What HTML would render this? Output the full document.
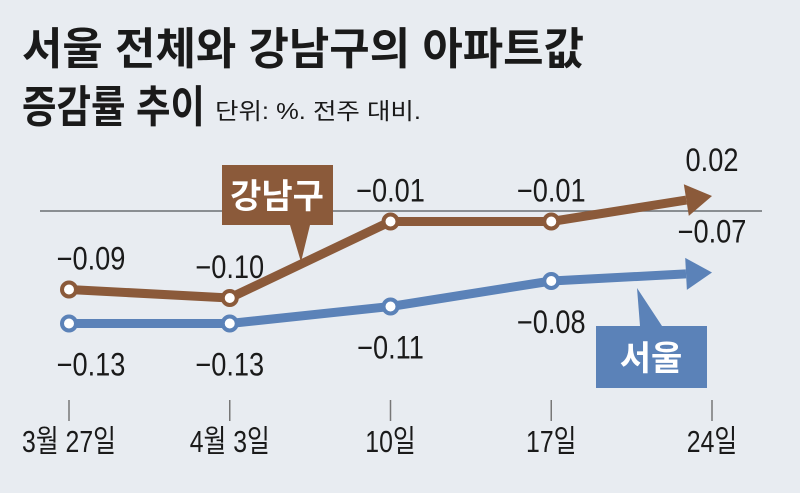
<!DOCTYPE html>
<html><head><meta charset="utf-8">
<style>
html,body{margin:0;padding:0;background:#e8ecf1;}
svg{display:block;}
text{font-family:"Liberation Sans","Noto Sans CJK KR",sans-serif;}
</style></head>
<body>
<svg id="chart" width="800" height="493" viewBox="0 0 800 493">
<rect x="0" y="0" width="800" height="493" fill="#e8ecf1"/>
<text x="22" y="64" font-size="44" font-weight="bold" fill="#1a1a1a" textLength="562" lengthAdjust="spacingAndGlyphs">서울 전체와 강남구의 아파트값</text>
<text x="22" y="122" font-size="44" font-weight="bold" fill="#1a1a1a" textLength="183" lengthAdjust="spacingAndGlyphs">증감률 추이</text>
<text x="215" y="119" font-size="23" fill="#1a1a1a" textLength="206" lengthAdjust="spacingAndGlyphs">단위: %. 전주 대비.</text>
<line x1="40" y1="211" x2="762" y2="211" stroke="#6b6e73" stroke-width="1.5"/>
<g id="marks"></g>
</svg>
<script>
const categories = ["3월 27일","4월 3일","10일","17일","24일"];
const gangnam = [-0.09,-0.10,-0.01,-0.01,0.02];
const seoul = [-0.13,-0.13,-0.11,-0.08,-0.07];
const gangnamLabels = ["−0.09","−0.10","−0.01","−0.01","0.02"];
const seoulLabels = ["−0.13","−0.13","−0.11","−0.08","−0.07"];

const NS="http://www.w3.org/2000/svg";
const g=document.getElementById('marks');
function xPos(i){return 69+i*160.75;}
function yPos(v){return 213-v*850;}
function mk(tag,attrs){const e=document.createElementNS(NS,tag);for(const k in attrs)e.setAttribute(k,attrs[k]);g.appendChild(e);return e;}

categories.forEach((c,i)=>{
  const t=mk('line',{x1:xPos(i),y1:400,x2:xPos(i),y2:421,stroke:'#777',"stroke-width":1.5});
  
  
  const l=mk('text',{x:xPos(i),y:452,"font-size":31,"text-anchor":"middle",fill:'#1a1a1a',transform:`translate(${xPos(i)},0) scale(0.8,1) translate(${-xPos(i)},0)`});
  l.textContent=c;
  
  
});

function series(vals,labels,color,name,labOff,lastOff){
  const n=vals.length;
  let d='';
  for(let i=0;i<n-1;i++)d+=(i?'L':'M')+xPos(i)+','+yPos(vals[i]);
  const x3=xPos(n-2),y3=yPos(vals[n-2]),x4=xPos(n-1),y4=yPos(vals[n-1]);
  const ang=Math.atan2(y4-y3,x4-x3);
  const bx=x4-26*Math.cos(ang),by=y4-26*Math.sin(ang);
  d+='L'+bx+','+by;
  const p=mk('path',{d:d,fill:'none',stroke:color,"stroke-width":9,"stroke-linejoin":"round"});
  
  
  const px=-Math.sin(ang),py=Math.cos(ang);
  const ah=mk('polygon',{points:`${x4},${y4} ${bx+px*16},${by+py*16} ${bx-px*16},${by-py*16}`,fill:color});
  
  
  for(let i=0;i<n-1;i++){
    const c=mk('circle',{cx:xPos(i),cy:yPos(vals[i]),r:7,fill:'#fff',stroke:color,"stroke-width":4});
    
    
  }
  for(let i=0;i<n;i++){
    const off=(i===n-1)?lastOff:labOff;
    const lx=xPos(i)+(i===0?22:0);
    const t=mk('text',{x:lx,y:yPos(vals[i])+off,"font-size":32,"text-anchor":"middle",fill:'#1a1a1a',transform:`translate(${lx},0) scale(0.85,1) translate(${-lx},0)`});
    t.textContent=labels[i];
    
    
  }
}
series(gangnam,gangnamLabels,'#8b5a3a','gangnam',-20,-25);
series(seoul,seoulLabels,'#5b82b8','seoul',52,-30);

const gb=mk('path',{d:'M222,165 L333,165 L333,225 L310,225 L301,262 L290,225 L222,225 Z',fill:'#8b5a3a'});


const gt=mk('text',{x:277,y:208,"font-size":34,"font-weight":"bold","text-anchor":"middle",fill:'#fff'});
gt.textContent='강남구';


const sb=mk('path',{d:'M596,326 L640,326 L637,288 L662,326 L707,326 L707,388 L596,388 Z',fill:'#5b82b8'});


const st=mk('text',{x:651,y:370,"font-size":34,"font-weight":"bold","text-anchor":"middle",fill:'#fff'});
st.textContent='서울';


</script>
</body></html>
